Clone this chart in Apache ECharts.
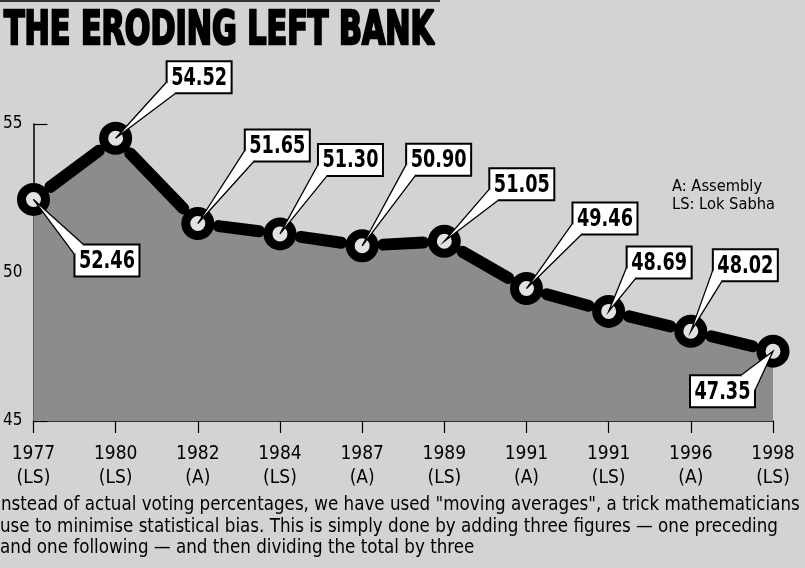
<!DOCTYPE html>
<html>
<head>
<meta charset="utf-8">
<script src="https://cdn.jsdelivr.net/npm/echarts@6/dist/echarts.min.js"></script>
<style>html,body{margin:0;padding:0;background:#fff}#c{width:805px;height:568px}</style>
</head>
<body>
<div id="c"></div>
<script>
const categories = ['1977\n(LS)', '1980\n(LS)', '1982\n(A)', '1984\n(LS)', '1987\n(A)', '1989\n(LS)', '1991\n(A)', '1991\n(LS)', '1996\n(A)', '1998\n(LS)'];
const values = [52.46, 54.52, 51.65, 51.30, 50.90, 51.05, 49.46, 48.69, 48.02, 47.35];
const yTicks = [45, 50, 55];
const titleText = 'THE ERODING LEFT BANK';
const legendLines = ['A: Assembly', 'LS: Lok Sabha'];
const noteLines = [
  'Instead of actual voting percentages, we have used "moving averages", a trick mathematicians',
  'use to minimise statistical bias. This is simply done by adding three figures \u2014 one preceding',
  'and one following \u2014 and then dividing the total by three'
];

// layout (callout box offsets relative to each point, in px)
const calloutOffsets = [[41,45],[51,-77],[47,-94],[38,-90],[44,-102],[45,-73],[46,-86],[18,-65],[22,-82],[-83,24]];

const NARROW = '"DejaVu Sans Condensed", "Liberation Sans Narrow", sans-serif';
const BG = '#d3d3d3';
const AREA = '#8c8c8c';

function measure(text, font) {
  const c = document.createElement('canvas').getContext('2d');
  c.font = font; return c.measureText(text).width;
}
const titleFont = 'bold 46px ' + NARROW;
const titleScale = 430 / measure(titleText, titleFont);
const noteFont = '19px ' + NARROW;
const noteScale = 778 / measure(noteLines[1], noteFont);
const calloutFont = 'bold 25px ' + NARROW;
const calloutScale = 56 / measure('54.52', calloutFont);
const legendFont = '16px ' + NARROW;
const legendScale = 103 / measure(legendLines[1], legendFont);

const chart = echarts.init(document.getElementById('c'), null, {renderer: 'canvas'});

const graphics = [
  {type: 'rect', left: 0, top: 0, shape: {width: 440, height: 2}, style: {fill: '#333'}},
  {type: 'text', x: 4, y: 32, scaleX: titleScale, style: {text: titleText, font: titleFont, fill: '#000', stroke: '#000', lineWidth: 2.5, verticalAlign: 'middle'}},
  {type: 'text', x: 672, y: 187, scaleX: legendScale, style: {text: legendLines[0], font: legendFont, fill: '#000', verticalAlign: 'middle'}},
  {type: 'text', x: 672, y: 205, scaleX: legendScale, style: {text: legendLines[1], font: legendFont, fill: '#000', verticalAlign: 'middle'}}
];
const noteY = [505, 527, 548];
noteLines.forEach((t, i) => {
  graphics.push({type: 'text', x: i === 0 ? -4 : 0, y: noteY[i], scaleX: noteScale, style: {text: t, font: noteFont, fill: '#000', verticalAlign: 'middle'}});
});

function calloutGeom(api, i) {
  const p = api.coord([i, values[i]]);
  const off = calloutOffsets[i];
  const w = 65, h = 32;
  const bx = p[0] + off[0], by = p[1] + off[1];
  let A, B;
  if (off[1] < 0) { A = [bx, by + h * 0.65]; B = [bx + 9, by + h]; }
  else if (off[0] > 0) { A = [bx + 9, by]; B = [bx, by + 10]; }
  else { A = [bx + w - 14, by]; B = [bx + w, by + 15]; }
  return {p, bx, by, w, h, A, B};
}

const option = {
  animation: false,
  backgroundColor: BG,
  grid: {left: 32, right: 32, top: 124, bottom: 147, containLabel: false},
  xAxis: {
    type: 'category', data: categories, boundaryGap: false,
    axisLine: {lineStyle: {color: '#000', width: 1.5}},
    axisTick: {show: true, length: 12, lineStyle: {color: '#000', width: 1.2}},
    axisLabel: {color: '#000', fontSize: 19, lineHeight: 24, fontFamily: NARROW, margin: 21, interval: 0},
    splitLine: {show: false}
  },
  yAxis: {
    type: 'value', min: yTicks[0], max: yTicks[yTicks.length - 1], interval: yTicks[1] - yTicks[0],
    axisLine: {show: true, lineStyle: {color: '#000', width: 1.5}},
    axisTick: {show: true, inside: true, length: 14, lineStyle: {color: '#000', width: 1.2}},
    axisLabel: {color: '#000', fontSize: 17, fontFamily: NARROW, margin: 11},
    splitLine: {show: false}
  },
  graphic: {elements: graphics},
  series: [
    {
      type: 'line', data: values, z: 1, symbol: 'none',
      lineStyle: {width: 0, opacity: 0},
      areaStyle: {color: AREA, opacity: 1}
    },
    {
      type: 'custom', z: 2, data: values.slice(0, -1).map((v, i) => [i, v]),
      renderItem: function (params, api) {
        const i = params.dataIndex;
        const p0 = api.coord([i, values[i]]);
        const p1 = api.coord([i + 1, values[i + 1]]);
        const dx = p1[0] - p0[0], dy = p1[1] - p0[1];
        const len = Math.sqrt(dx * dx + dy * dy);
        const ux = dx / len, uy = dy / len, s = 21;
        return {type: 'line', shape: {x1: p0[0] + ux * s, y1: p0[1] + uy * s, x2: p1[0] - ux * s, y2: p1[1] - uy * s},
          style: {stroke: '#000', lineWidth: 12, lineCap: 'round'}};
      }
    },
    {
      type: 'custom', z: 3, data: values.map((v, i) => [i, v]),
      renderItem: function (params, api) {
        const g = calloutGeom(api, params.dataIndex);
        return {type: 'polygon', shape: {points: [g.p, g.A, g.B]}, style: {fill: '#dcdcdc', stroke: null}};
      }
    },
    {
      type: 'line', data: values, z: 4, symbol: 'circle', symbolSize: 24, showSymbol: true,
      lineStyle: {width: 0, opacity: 0},
      itemStyle: {color: '#e2e2e2', borderColor: '#000', borderWidth: 9}
    },
    {
      type: 'custom', z: 5, data: values.map((v, i) => [i, v]),
      renderItem: function (params, api) {
        const i = params.dataIndex;
        const g = calloutGeom(api, i);
        return {type: 'group', children: [
          {type: 'rect', shape: {x: g.bx, y: g.by, width: g.w, height: g.h}, style: {fill: '#fff', stroke: '#000', lineWidth: 2}},
          {type: 'polygon', shape: {points: [g.A, [g.p[0], g.p[1]], g.B]}, style: {fill: '#fff', stroke: null}, z2: 1},
          {type: 'polyline', shape: {points: [g.A, g.p, g.B]}, style: {fill: null, stroke: '#000', lineWidth: 1.3}, z2: 2},
          {type: 'text', x: g.bx + g.w / 2, y: g.by + g.h / 2 + 1, scaleX: calloutScale,
            style: {text: values[i].toFixed(2), x: 0, y: 0, align: 'center', verticalAlign: 'middle', font: calloutFont, fill: '#000'}, z2: 3}
        ]};
      }
    }
  ]
};
chart.setOption(option);
</script>
</body>
</html>
